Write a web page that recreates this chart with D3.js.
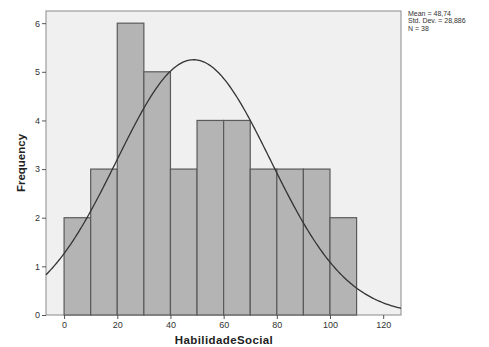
<!DOCTYPE html>
<html>
<head>
<meta charset="utf-8">
<style>
    body { margin: 0; background: white; }
    svg { font-family: Arial, 'Liberation Sans', sans-serif; }
    .tick text { fill: #333; font-size: 9px; }
    .tick line, .domain { stroke: #555; }
</style>
</head>
<body>
<svg width="489" height="347"></svg>
<script src="https://d3js.org/d3.v7.min.js"></script>
<script>
    // histogram bins (lower edge) and counts
    let binStarts = [0, 10, 20, 30, 40, 50, 60, 70, 80, 90, 100];
    let counts = [2, 3, 6, 5, 3, 4, 4, 3, 3, 3, 2];
    let binWidth = 10;
    let xTicks = [0, 20, 40, 60, 80, 100, 120];
    let yTicks = [0, 1, 2, 3, 4, 5, 6];
    let statLabels = ["Mean = 48,74", "Std. Dev. = 28,886", "N = 38"];
    let mean = 48.74, sd = 28.886, n = 38;

    let margin = {top: 11, left: 46, right: 88, bottom: 32};
    let w = 489, h = 347;

    let svg = d3.select("svg");

    let x = d3.scaleLinear()
        .domain([-6.8, 126.7])
        .range([margin.left, w - margin.right]);
    let y = d3.scaleLinear()
        .domain([0, 6.25])
        .range([h - margin.bottom, margin.top]);

    // plot background
    svg.append("rect")
        .attr("x", margin.left)
        .attr("y", margin.top)
        .attr("width", x.range()[1] - margin.left)
        .attr("height", y(0) - margin.top)
        .attr("fill", "#f0f0f0")
        .attr("stroke", "#8a8a8a")
        .attr("stroke-width", 1);

    // bars
    svg.append("g")
        .selectAll("rect")
        .data(binStarts)
        .join("rect")
        .attr("x", d => x(d))
        .attr("width", d => x(d + binWidth) - x(d))
        .attr("y", (d, i) => y(counts[i]))
        .attr("height", (d, i) => y(0) - y(counts[i]))
        .attr("fill", "#b4b4b4")
        .attr("stroke", "#5a5a5a")
        .attr("stroke-width", 1.2);

    // normal curve scaled to counts
    let xs = d3.range(x.domain()[0], x.domain()[1] + 0.01, 0.5);
    let curve = d3.line()
        .x(d => x(d))
        .y(d => y(n * binWidth / (sd * Math.sqrt(2 * Math.PI)) * Math.exp(-0.5 * ((d - mean) / sd) ** 2)));
    svg.append("path")
        .datum(xs)
        .attr("d", curve)
        .attr("fill", "none")
        .attr("stroke", "#333")
        .attr("stroke-width", 1.3);

    // axes
    svg.append("g")
        .attr("transform", "translate(0," + y(0) + ")")
        .call(d3.axisBottom(x).tickValues(xTicks).tickSize(4).tickPadding(3))
        .call(g => g.select(".domain").remove());

    svg.append("g")
        .attr("transform", "translate(" + margin.left + ",0)")
        .call(d3.axisLeft(y).tickValues(yTicks).tickFormat(d3.format("d")).tickSize(4).tickPadding(2))
        .call(g => g.select(".domain").remove());

    // axis titles
    svg.append("text")
        .attr("x", 224)
        .attr("y", 344)
        .attr("text-anchor", "middle")
        .attr("font-size", 11.5)
        .attr("font-weight", "bold")
        .attr("fill", "#222")
        .style("letter-spacing", "0.4px")
        .text("HabilidadeSocial");

    svg.append("text")
        .attr("transform", "translate(25,163) rotate(-90)")
        .attr("text-anchor", "middle")
        .attr("font-size", 11.5)
        .attr("font-weight", "bold")
        .attr("fill", "#222")
        .text("Frequency");

    // stats box
    svg.append("g")
        .selectAll("text")
        .data(statLabels)
        .join("text")
        .attr("x", 408)
        .attr("y", (d, i) => 15.5 + i * 7.5)
        .attr("font-size", 7)
        .attr("fill", "#333")
        .text(d => d);
</script>
</body>
</html>
